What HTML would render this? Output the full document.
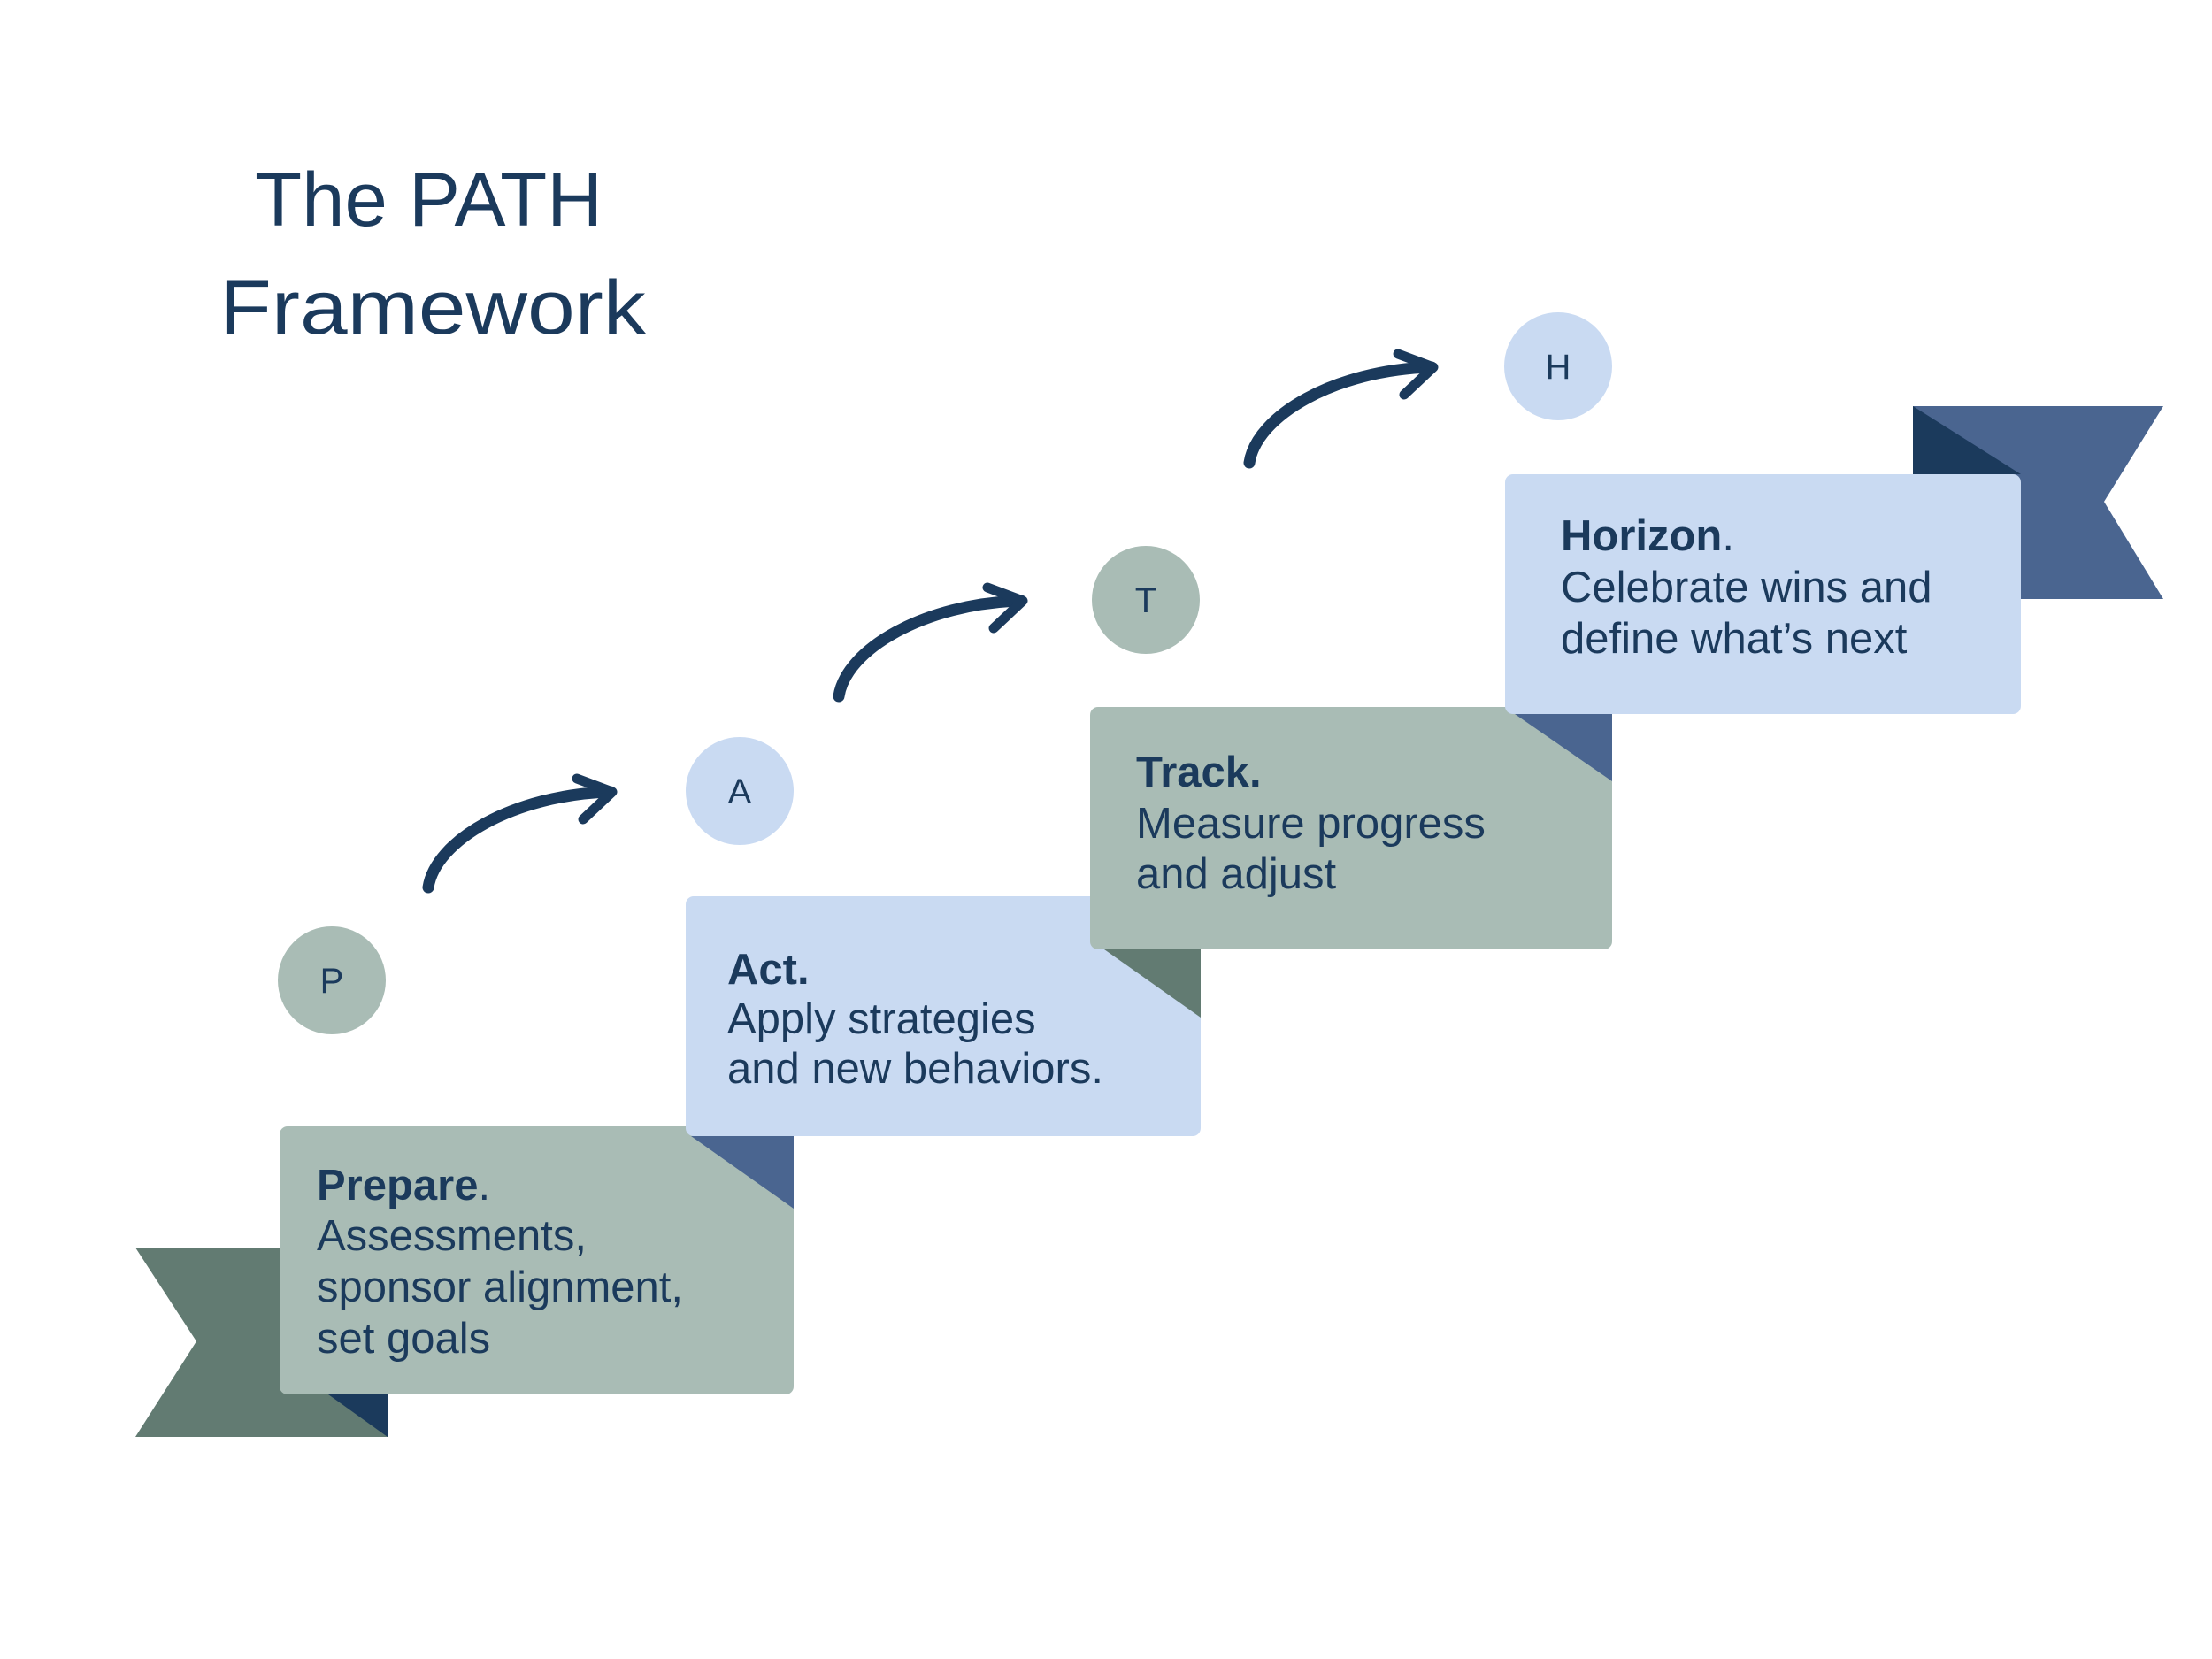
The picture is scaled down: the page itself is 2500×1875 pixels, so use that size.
<!DOCTYPE html>
<html><head><meta charset="utf-8"><style>
html,body{margin:0;padding:0;background:#fff}
svg{display:block}
text{font-family:"Liberation Sans",sans-serif;fill:#1b3a5c}
</style></head><body>
<svg width="2500" height="1875" viewBox="0 0 2500 1875" xmlns="http://www.w3.org/2000/svg">
<rect width="2500" height="1875" fill="#fff"/>
<text x="288" y="255" font-size="86" textLength="393" lengthAdjust="spacingAndGlyphs">The PATH</text>
<text x="248" y="377" font-size="86" textLength="482" lengthAdjust="spacingAndGlyphs">Framework</text>

<!-- Prepare ribbon -->
<polygon points="153,1410 438,1410 438,1624 153,1624 222,1516" fill="#627b72"/>
<polygon points="371,1576 438,1576 438,1624" fill="#1b3a5c"/>
<rect x="316" y="1273" width="581" height="303" rx="9" fill="#a9bcb5"/>
<polygon points="781,1284 897,1284 897,1366" fill="#4a6590"/>

<!-- Act -->
<rect x="775" y="1013" width="582" height="271" rx="9" fill="#c9daf2"/>
<polygon points="1248,1073 1357,1073 1357,1150" fill="#627b72"/>

<!-- Track -->
<rect x="1232" y="799" width="590" height="274" rx="9" fill="#a9bcb5"/>
<polygon points="1712,807 1822,807 1822,883" fill="#4a6590"/>

<!-- Horizon ribbon -->
<polygon points="2162,459 2445,459 2378,567 2445,677 2162,677" fill="#4a6590"/>
<polygon points="2162,459 2284,536 2162,536" fill="#1b3a5c"/>
<rect x="1701" y="536" width="583" height="271" rx="9" fill="#c9daf2"/>

<!-- circles -->
<circle cx="375" cy="1108" r="61" fill="#a9bcb5"/>
<circle cx="836" cy="894" r="61" fill="#c9daf2"/>
<circle cx="1295" cy="678" r="61" fill="#a9bcb5"/>
<circle cx="1761" cy="414" r="61" fill="#c9daf2"/>
<g font-size="40" text-anchor="middle">
<text x="375" y="1122">P</text>
<text x="836" y="908">A</text>
<text x="1295" y="692">T</text>
<text x="1761" y="428">H</text>
</g>

<!-- arrows -->
<defs>
<g id="arr">
<path d="M484,1003 C492,950 580,898 690,895" fill="none" stroke="#1b3a5c" stroke-width="13" stroke-linecap="round"/>
<polyline points="652,880 692,895 659,926" fill="none" stroke="#1b3a5c" stroke-width="11" stroke-linecap="round" stroke-linejoin="round"/>
</g>
</defs>
<use href="#arr"/>
<use href="#arr" transform="translate(464,-216)"/>
<use href="#arr" transform="translate(928,-480)"/>

<!-- texts -->
<g font-size="49">
<text x="358" y="1356"><tspan font-weight="bold">Prepare</tspan>.</text>
<text x="358" y="1413">Assessments,</text>
<text x="358" y="1471">sponsor alignment,</text>
<text x="358" y="1529">set goals</text>

<text x="822" y="1112" font-weight="bold">Act.</text>
<text x="822" y="1168">Apply strategies</text>
<text x="822" y="1224">and new behaviors.</text>

<text x="1284" y="889" font-weight="bold">Track.</text>
<text x="1284" y="947">Measure progress</text>
<text x="1284" y="1004">and adjust</text>

<text x="1764" y="622"><tspan font-weight="bold">Horizon</tspan>.</text>
<text x="1764" y="680">Celebrate wins and</text>
<text x="1764" y="738">define what’s next</text>
</g>
</svg>
</body></html>
